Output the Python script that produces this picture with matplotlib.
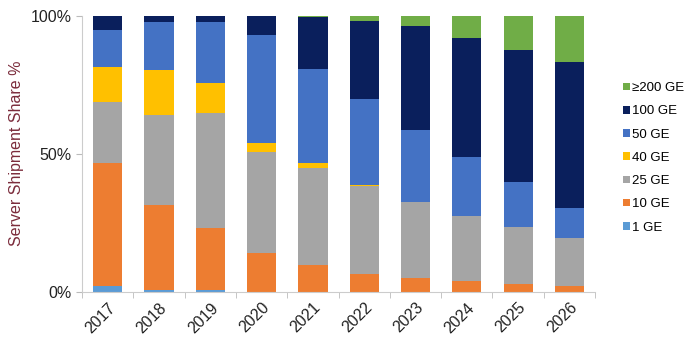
import matplotlib.pyplot as plt
import numpy as np

plt.rcParams['font.family'] = ['Liberation Sans', 'DejaVu Sans']

years = ['2017', '2018', '2019', '2020', '2021', '2022', '2023', '2024', '2025', '2026']
labels = ['1 GE', '10 GE', '25 GE', '40 GE', '50 GE', '100 GE', '\u2265200 GE']
colors = ['#5B9BD5', '#ED7D31', '#A5A5A5', '#FFC000', '#4472C4', '#0A1F5C', '#70AD47']

# share per speed class, % of server shipments
ge1 = [2.0, 0.6, 0.5, 0.0, 0.0, 0.0, 0.0, 0.0, 0.0, 0.0]
ge10 = [44.5, 30.8, 22.7, 13.9, 9.7, 6.3, 5.1, 3.9, 2.7, 2.0]
ge25 = [22.3, 32.6, 41.4, 36.8, 35.0, 32.0, 27.5, 23.6, 20.9, 17.3]
ge40 = [12.7, 16.3, 10.9, 3.3, 1.8, 0.4, 0.0, 0.0, 0.0, 0.0]
ge50 = [13.3, 17.3, 22.3, 39.0, 34.2, 31.3, 26.0, 21.2, 16.3, 10.9]
ge100 = [5.2, 2.4, 2.2, 7.0, 18.7, 28.2, 37.7, 43.3, 47.7, 52.9]
ge200 = [0.0, 0.0, 0.0, 0.0, 0.6, 1.8, 3.7, 8.0, 12.4, 16.9]

series = [ge1, ge10, ge25, ge40, ge50, ge100, ge200]

fig = plt.figure(figsize=(6.84, 3.42), dpi=100)
ax = fig.add_axes([0.12, 0.147, 0.75, 0.807])

x = np.arange(len(years))
bottom = np.zeros(len(years))
for vals, lab, col in zip(series, labels, colors):
    ax.bar(x, vals, width=0.57, bottom=bottom, color=col, label=lab)
    bottom += np.array(vals)

ax.set_xlim(-0.5, len(years) - 0.5)
ax.set_ylim(0, 100)
ax.set_yticks([0, 50, 100])
ax.set_yticklabels(['0%', '50%', '100%'], fontsize=11.5, color='#222222')
ax.set_xticks(x)
ax.set_xticklabels(years, rotation=45, ha='right', rotation_mode='anchor',
                   fontsize=11.5, color='#222222')
ax.tick_params(axis='x', which='major', length=0, pad=6)
ax.set_xticks(np.arange(len(years) + 1) - 0.5, minor=True)
ax.tick_params(axis='x', which='minor', length=4, color='#BBBBBB')
ax.tick_params(axis='y', length=4, color='#BBBBBB')

for s in ['top', 'right']:
    ax.spines[s].set_visible(False)
ax.spines['left'].set_color('#CCCCCC')
ax.spines['bottom'].set_color('#CCCCCC')

ax.set_ylabel('Server Shipment Share %', fontsize=11.5, color='#7B2B3B', labelpad=5)

h, l = ax.get_legend_handles_labels()
ax.legend(h[::-1], l[::-1], loc='center left', bbox_to_anchor=(1.055, 0.485),
          frameon=False, fontsize=9.5, handlelength=0.5, handleheight=0.5,
          handletextpad=0.15, labelspacing=0.85, borderaxespad=0, borderpad=0)

fig.savefig('out.png', dpi=100)
